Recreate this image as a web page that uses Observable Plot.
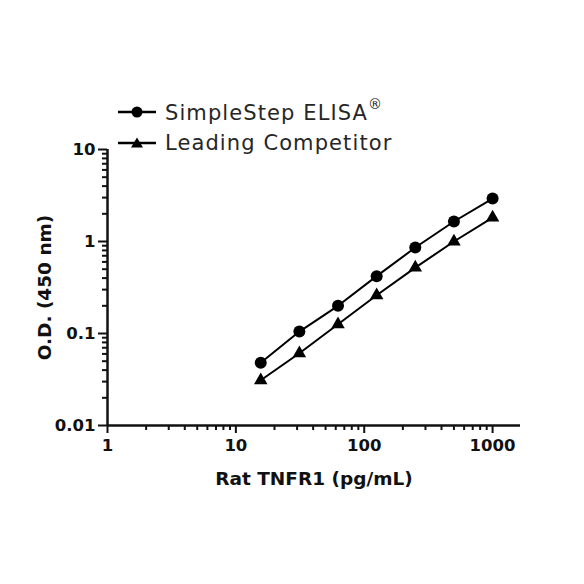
<!DOCTYPE html>
<html><head><meta charset="utf-8">
<script src="https://cdn.jsdelivr.net/npm/d3@7"></script>
<script src="https://cdn.jsdelivr.net/npm/@observablehq/plot@0.6"></script>
<style>
body{margin:0;background:#fff;}
#wrap{position:relative;width:584px;height:584px;font-family:"DejaVu Sans",sans-serif;}
#legend{position:absolute;left:116px;top:96px;font-size:21px;letter-spacing:1.1px;color:#262626;}
#legend .row{display:flex;align-items:center;height:31px;}
#legend svg{margin-right:7px;}
</style>
</head><body>
<div id="wrap"><div id="chart"></div><div id="legend"></div></div>
<script>
const concentrations = [15.625, 31.25, 62.5, 125, 250, 500, 1000];
const simpleStep = [0.048, 0.105, 0.20, 0.42, 0.86, 1.65, 2.93];
const competitor = [0.031, 0.061, 0.126, 0.26, 0.52, 1.0, 1.82];
const seriesNames = ["SimpleStep ELISA", "Leading Competitor"];
const xMajor = [1, 10, 100, 1000];
const yMajor = [0.01, 0.1, 1, 10];
const xTitle = "Rat TNFR1 (pg/mL)";
const yTitle = "O.D. (450 nm)";

const data = [];
concentrations.forEach((c, i) => {
  data.push({x: c, y: simpleStep[i], s: seriesNames[0]});
  data.push({x: c, y: competitor[i], s: seriesNames[1]});
});
const xMinor = [];
for (const d of [1, 10, 100, 1000]) for (let k = 2; k <= 9; k++) if (d * k <= 1650) xMinor.push(d * k);
const yMinor = [];
for (const d of [0.01, 0.1, 1]) for (let k = 2; k <= 9; k++) yMinor.push(d * k);

const fmt = v => String(v);
const plot = Plot.plot({
  width: 584, height: 584,
  marginLeft: 107, marginRight: 64, marginTop: 149, marginBottom: 159,
  style: {fontFamily: "DejaVu Sans, sans-serif", color: "#111", background: "#fff"},
  x: {type: "log", domain: [1, 1650], axis: null},
  y: {type: "log", domain: [0.01, 10], axis: null},
  marks: [
    Plot.axisX(xMinor, {tickSize: 5, strokeWidth: 2, tickFormat: () => "", anchor: "bottom", label: null}),
    Plot.axisX(xMajor, {tickSize: 8, strokeWidth: 2, tickFormat: fmt, anchor: "bottom", fontSize: 16.5, fontWeight: "bold", tickPadding: 6, label: null}),
    Plot.axisY(yMinor, {tickSize: 5, strokeWidth: 2, tickFormat: () => "", anchor: "left", label: null}),
    Plot.axisY(yMajor, {tickSize: 9, strokeWidth: 2, tickFormat: fmt, anchor: "left", fontSize: 16.5, fontWeight: "bold", tickPadding: 3, label: null}),
    Plot.ruleX([1], {y1: 0.01, y2: 10, strokeWidth: 2.5}),
    Plot.ruleY([0.01], {x1: 1, x2: 1650, strokeWidth: 2.5}),
    Plot.line(data, {x: "x", y: "y", z: "s", stroke: "#000", strokeWidth: 2}),
    Plot.dot(data.filter(d => d.s === seriesNames[0]), {x: "x", y: "y", r: 6, fill: "#000", symbol: "circle"}),
    Plot.dot(data.filter(d => d.s === seriesNames[1]), {x: "x", y: "y", r: 5, fill: "#000", symbol: "triangle"}),
    Plot.text([xTitle], {frameAnchor: "bottom", dy: 59, fontSize: 18.5, fontWeight: "bold", fill: "#111"}),
    Plot.text([yTitle], {frameAnchor: "left", dx: -62, rotate: -90, textAnchor: "middle", fontSize: 18.5, fontWeight: "bold", fill: "#111"})
  ]
});
document.getElementById("chart").appendChild(plot);

const legend = document.getElementById("legend");
const syms = [
  '<circle cx="21" cy="8" r="5.5" fill="#000"/>',
  '<path d="M21,2.5 L27,12.5 L15,12.5 Z" fill="#000"/>'
];
seriesNames.forEach((n, i) => {
  const row = document.createElement("div");
  row.className = "row";
  row.innerHTML = `<svg width="42" height="16"><line x1="2" x2="40" y1="8" y2="8" stroke="#000" stroke-width="2.5"/>${syms[i]}</svg><span>${n}${i === 0 ? '<sup style="font-size:14px;position:relative;top:-3px;letter-spacing:0">®</sup>' : ''}</span>`;
  legend.appendChild(row);
});
</script>
</body></html>
